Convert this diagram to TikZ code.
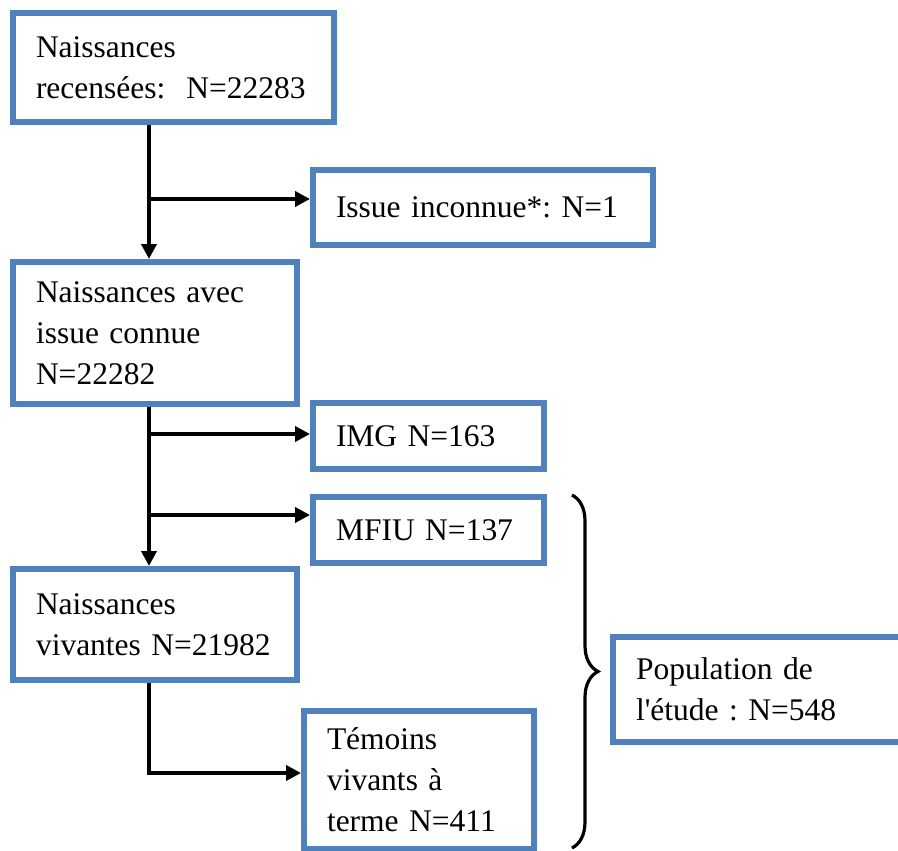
\documentclass[tikz,border=0pt]{standalone}
\usepackage{fontspec}
\setmainfont{Liberation Serif}
\usetikzlibrary{arrows.meta,decorations.pathreplacing}
\definecolor{boxblue}{RGB}{79,129,189}
\frenchspacing
\begin{document}
\begin{tikzpicture}[x=1pt, y=-1pt,
    box/.style={draw=boxblue, line width=6pt, rectangle, align=left,
      inner xsep=23pt, inner ysep=0pt, font=\fontsize{31.5}{41}\selectfont},
    arr/.style={line width=3.8pt, -{Triangle[length=15pt,width=15pt]}}]
      \useasboundingbox (0,0) rectangle (898,851);

      % Left column
      \node[box, minimum width=321pt, minimum height=109pt, text width=275pt] (naiss) at (173.5,67.5)
        {Naissances\\recensées:\ \ N=22283};
      \node[box, minimum width=284pt, minimum height=142pt, text width=238pt] (connue) at (155,333)
        {Naissances avec\\issue connue\\N=22282};
      \node[box, minimum width=284pt, minimum height=111pt, text width=238pt] (vivantes) at (155,624.5)
        {Naissances\\vivantes N=21982};

      % Right column
      \node[box, minimum width=340pt, minimum height=75pt, text width=294pt] (issue) at (483,207.5)
        {Issue inconnue*: N=1};
      \node[box, minimum width=231pt, minimum height=66pt, text width=185pt] (img) at (428.5,436)
        {IMG N=163};
      \node[box, minimum width=231pt, minimum height=66pt, text width=185pt] (mfiu) at (428.5,530)
        {MFIU N=137};
      \node[box, minimum width=230pt, minimum height=138pt, text width=184pt] (temoins) at (419,780)
        {Témoins\\vivants à\\terme N=411};
      \node[box, minimum width=292pt, minimum height=105pt, text width=246pt] (popu) at (759,689.5)
        {Population de\\l\textquotesingle étude : N=548};

      % Branch points
      \coordinate (j1) at (149,199);
      \coordinate (j2) at (149,434);
      \coordinate (j3) at (149,515);
      \coordinate (j4) at (149,773);

      \draw[arr] (naiss.south -| j1) -- (connue.north -| j1);
      \draw[arr] (j1) -- (issue.west |- j1);
      \draw[arr] (connue.south -| j2) -- (vivantes.north -| j2);
      \draw[arr] (j2) -- (img.west |- j2);
      \draw[arr] (j3) -- (mfiu.west |- j3);
      \draw[arr] (vivantes.south -| j4) -- (j4) -- (temoins.west |- j4);

      % Brace
      \coordinate (btop) at (572,495);
      \coordinate (bbot) at (572,848);
      \draw[line width=3.2pt, decorate, decoration={brace, amplitude=26pt}] (btop) -- (bbot);
\end{tikzpicture}
\end{document}
